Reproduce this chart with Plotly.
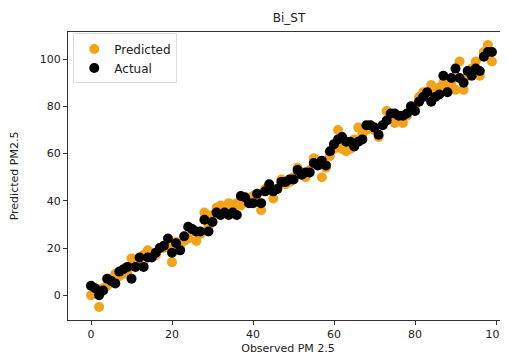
import plotly.graph_objects as go

observed = list(range(100))

actual = [4, 3, 0, 2, 7, 6, 5, 10, 11, 12,
          7, 12, 16, 12, 16, 16, 18, 20, 21, 24,
          18, 22, 19, 25, 29, 28, 27, 27, 32, 27,
          31, 35, 34, 35, 34, 35, 34, 42, 41.5, 39,
          39, 43, 39, 44, 47, 44, 45, 48, 48, 49,
          49, 53, 51, 52, 52, 56, 55, 57, 55, 61,
          64, 66, 67, 65, 65, 63, 65, 66, 72, 72,
          71, 68, 72, 74, 77, 77, 76, 76, 77, 80,
          78, 82, 84, 86, 82, 84, 85, 93, 86, 92,
          96, 92, 90, 95, 93, 96, 95, 101, 103, 103]

predicted = [0, 2, -5, 3, 4, 7, 9, 8, 9, 10,
             15.6, 14, 13, 17, 19, 18, 17, 20, 20, 21,
             14, 22.5, 20, 23, 24, 27, 23, 26, 35, 29,
             34, 37, 38, 36, 39, 37, 39, 38, 40, 41,
             42, 40, 36, 45, 46, 41, 45, 49, 47, 48,
             50, 54, 52, 50, 53, 58, 57, 50, 54, 59,
             62, 70, 62, 61, 62, 66, 71, 68, 70, 72,
             70, 67, 72, 78, 75, 73, 75, 73, 76, 79,
             80, 84, 86, 84, 89, 86, 88, 90, 89, 90,
             87, 99, 87, 93, 96, 99, 93, 103, 106, 99]

x_ticks = [0, 20, 40, 60, 80, 100]
y_ticks = [0, 20, 40, 60, 80, 100]

fig = go.Figure()
fig.add_trace(go.Scatter(x=observed, y=predicted, mode="markers", name="Predicted",
                         marker=dict(color="#F2A31B", size=10, line=dict(width=0))))
fig.add_trace(go.Scatter(x=observed, y=actual, mode="markers", name="Actual",
                         marker=dict(color="black", size=10, line=dict(width=0))))

font = "DejaVu Sans, sans-serif"
axis_common = dict(showgrid=False, zeroline=False, showline=True, linecolor="#333",
                   linewidth=1, mirror=True, ticks="outside", ticklen=4, tickwidth=1,
                   tickcolor="#333", automargin=False,
                   tickfont=dict(family=font, size=11, color="#222"))

# page body adds an 8px offset; figure sized so the plot lands where the reference has it
fig.update_layout(
    width=500, height=354,
    margin=dict(l=60, r=0, t=24, b=42, autoexpand=False),
    paper_bgcolor="white", plot_bgcolor="white",
    title=dict(text="Bi_ST", x=0.562, xanchor="center", y=0.972, yanchor="middle",
               font=dict(family=font, size=12, color="#222")),
    xaxis=dict(range=[-5.68, 102.96], tickvals=x_ticks,
               title=dict(text="Observed PM 2.5", font=dict(family=font, size=11, color="#222"), standoff=4),
               **axis_common),
    yaxis=dict(range=[-10.5, 111.5], tickvals=y_ticks,
               title=dict(text="Predicted PM2.5", font=dict(family=font, size=11, color="#222"), standoff=19),
               **axis_common),
    legend=dict(x=0.012, y=0.995, xanchor="left", yanchor="top",
                bordercolor="#ddd", borderwidth=1, bgcolor="rgba(255,255,255,0.8)",
                font=dict(family=font, size=12, color="#222"), itemwidth=30,
                tracegroupgap=0),
    showlegend=True,
)

fig.write_html("out.html")
